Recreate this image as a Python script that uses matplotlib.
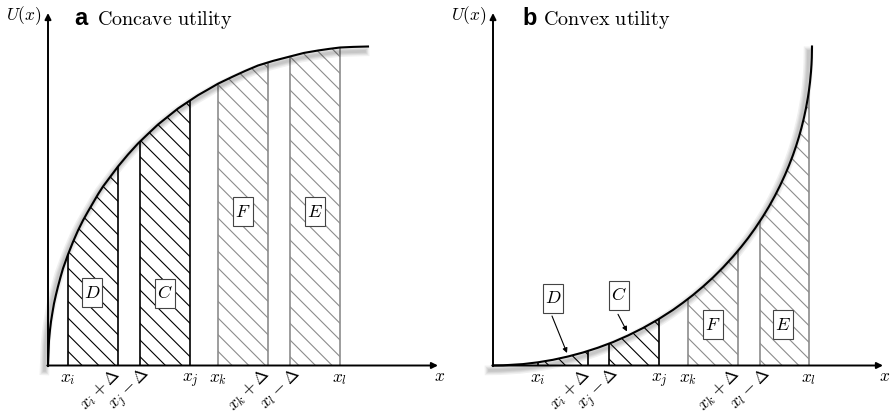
import numpy as np
import matplotlib
matplotlib.use("Agg")
import matplotlib.pyplot as plt
from matplotlib import patheffects as pe
from matplotlib.patches import Rectangle

plt.rcParams["mathtext.fontset"] = "cm"
plt.rcParams["hatch.linewidth"] = 0.8

# ---------------- data ----------------
# Panel a: concave utility curve U(x)
conc_x = [0, 1, 2, 3, 4.5, 6, 8, 10, 12.5, 15, 20, 25, 30, 35, 40, 50, 55, 70, 80, 90, 100, 110, 120,
          130, 142, 150, 160, 170, 185, 197, 210, 225, 242, 256, 270, 281, 292, 305, 320]
conc_u = [0, 25, 35.6, 44, 53.3, 62, 70.9, 79, 88.3, 97, 111, 123.6, 135, 145.1, 154, 171.2, 179, 199,
          211, 222, 231.6, 241, 249, 257, 265, 270.3, 276, 281.8, 289, 294.5, 300, 304.6, 309, 312.6,
          315, 316.6, 318, 318.6, 319]
# Panel b: convex utility curve U(x)
conv_x = [0, 10, 30, 45, 60, 75, 90, 105, 120, 135, 150, 165, 180, 190, 200, 210, 220, 230, 240, 248,
          255, 262, 270, 276, 282, 287, 292, 296, 300, 303, 306, 308.5, 311, 313, 315, 316, 317, 318,
          318.5, 318.8, 319]
conv_u = [0, 0.16, 1.4, 3.2, 5.7, 9.0, 13.0, 17.8, 23.4, 30.0, 37.5, 46.0, 55.6, 62.8, 70.5, 78.9,
          88.0, 98.0, 108.9, 118.4, 127.3, 137.0, 149.1, 159.0, 169.9, 179.8, 190.6, 200.1, 210.5,
          219.2, 228.8, 237.8, 248.0, 257.4, 268.7, 275.4, 283.3, 293.8, 301.1, 307.7, 319]

# tick positions: x_i, x_i+D, x_j-D, x_j, x_k, x_k+D, x_l-D, x_l
ticks_a = [20, 70, 92, 142, 170, 220, 242, 292]
ticks_b = [45, 95, 116, 166, 195, 245, 267, 316]
tick_labels = [r"$x_i$", r"$x_i+\Delta$", r"$x_j-\Delta$", r"$x_j$",
               r"$x_k$", r"$x_k+\Delta$", r"$x_l-\Delta$", r"$x_l$"]
tick_rotated = [False, True, True, False, False, True, True, False]

# shaded areas: (index of start tick, index of end tick, label, colour)
areas = [(0, 1, "D", "black"), (2, 3, "C", "black"),
         (4, 5, "F", "#8c8c8c"), (6, 7, "E", "#8c8c8c")]
# label positions per panel
box_pos_a = {"D": (44, 73), "C": (117, 72.5), "F": (195, 153.5), "E": (267, 153.5)}
box_pos_b = {"D": (60, 67.5), "C": (125.5, 70), "F": (219.5, 41), "E": (290, 41)}
# arrows (panel b only): label -> (start, end)
arrows_b = {"D": ((59, 49.5), (74, 12.5)), "C": ((125, 51.2), (134, 34))}

titles = [("a", "Concave utility"), ("b", "Convex utility")]

# ---------------- figure ----------------
fig = plt.figure(figsize=(8.92, 4.15), dpi=100)
axA = fig.add_axes([0, 0, 0.5, 1])
axB = fig.add_axes([0.5, 0, 0.5, 1])


def draw_panel(ax, cx, cu, ticks, box_pos, arrows, title, x_off):
    ax.set_xlim(-x_off, 446 - x_off)
    ax.set_ylim(-49.5, 365.5)
    ax.axis("off")
    cx = np.asarray(cx, float)
    cu = np.asarray(cu, float)

    for i0, i1, lab, col in areas:
        a, b = ticks[i0], ticks[i1]
        xs = np.concatenate([[a], cx[(cx > a) & (cx < b)], [b]])
        ys = np.interp(xs, cx, cu)
        ax.fill_between(xs, 0, ys, facecolor="none", edgecolor=col,
                        hatch="\\\\", linewidth=0, zorder=2)
        ax.vlines([a, b], 0, [ys[0], ys[-1]], colors=col, lw=1.2, zorder=3)

    shadows = [pe.SimpleLineShadow(offset=(-2.5, -3.5), shadow_color="k",
                                   alpha=0.06, linewidth=w) for w in (7, 5, 3.5, 2)]
    ax.plot(cx, cu, color="k", lw=1.5, zorder=4,
            path_effects=shadows + [pe.Normal()])

    # axes with arrows
    ax.annotate("", xy=(390, 0), xytext=(-0.7, 0),
                arrowprops=dict(arrowstyle="-|>", color="k", lw=1.4,
                                mutation_scale=9, shrinkA=0, shrinkB=0), zorder=5)
    ax.annotate("", xy=(0, 352.5), xytext=(0, -0.7),
                arrowprops=dict(arrowstyle="-|>", color="k", lw=1.4,
                                mutation_scale=9, shrinkA=0, shrinkB=0), zorder=5)
    ax.text(392, -10, r"$x$", ha="center", va="center", fontsize=12.5)
    ax.text(-24, 349.5, r"$U(x)$", ha="center", va="center", fontsize=12.5)

    # tick labels
    for t, lab, rot in zip(ticks, tick_labels, tick_rotated):
        if rot:
            dx = -0.5 if "+" in lab else 8
            ax.text(t + dx, -6, lab, rotation=45, rotation_mode="anchor",
                    ha="right", va="center", fontsize=12.5)
        else:
            ax.text(t, -17, lab, ha="center", va="baseline", fontsize=12.5)

    # label boxes
    for lab, (bx, by) in box_pos.items():
        ax.add_patch(Rectangle((bx - 10, by - 14.5), 20, 29, facecolor="white",
                               edgecolor="#444444", lw=0.8, zorder=6))
        ax.text(bx, by, "$" + lab + "$", ha="center", va="center", fontsize=13, zorder=7)
    for lab, (p0, p1) in arrows.items():
        ax.annotate("", xy=p1, xytext=p0,
                    arrowprops=dict(arrowstyle="-|>", color="k", lw=0.8,
                                    mutation_scale=7, shrinkA=0, shrinkB=0), zorder=7)

    letter, text = title
    ax.text(26 if letter == "a" else 29, 340.5, letter, fontfamily="Liberation Sans",
            fontweight="bold", fontsize=17, ha="left", va="baseline")
    ax.text(49 if letter == "a" else 50, 340.5, r"$\mathrm{" + text.replace(" ", r"\ ") + "}$",
            fontsize=14.5, ha="left", va="baseline")


draw_panel(axA, conc_x, conc_u, ticks_a, box_pos_a, {}, titles[0], 48)
draw_panel(axB, conv_x, conv_u, ticks_b, box_pos_b, arrows_b, titles[1], 47)

fig.savefig("out.png", dpi=100)
